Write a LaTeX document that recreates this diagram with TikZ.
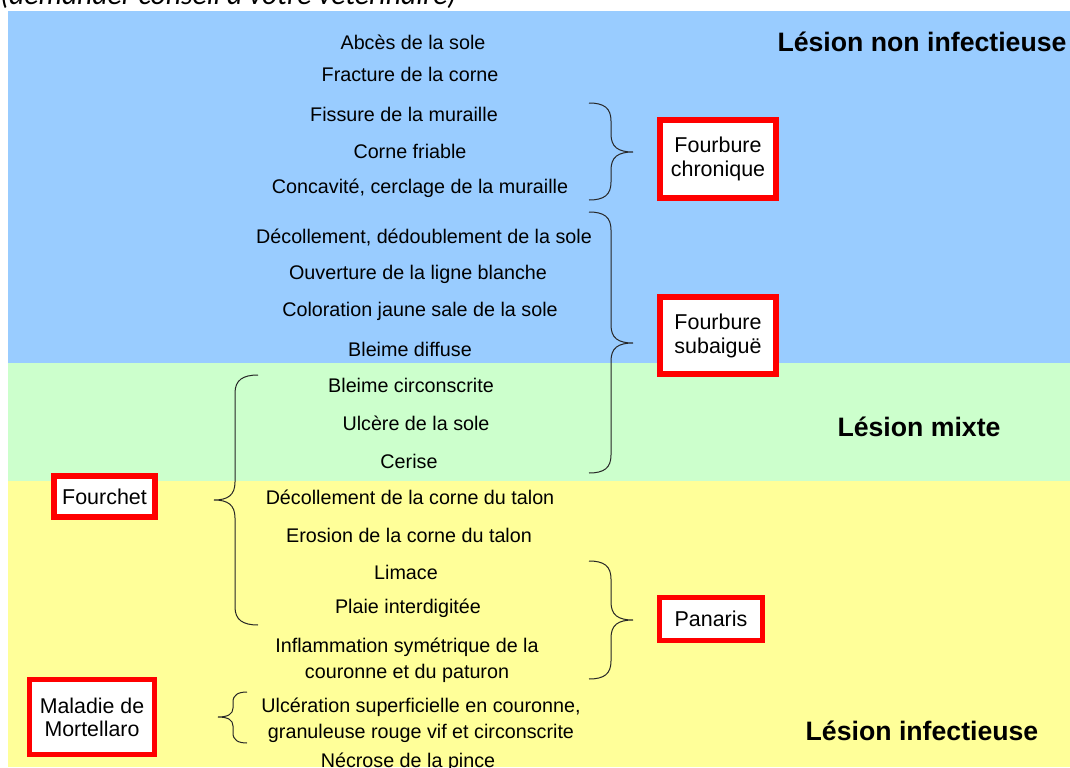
\documentclass[tikz,border=0pt]{standalone}
\usepackage{fontspec}
\setmainfont{Liberation Sans}
\newfontfamily\conseilfont{Carlito}
\usepackage{xcolor}

\definecolor{bleuzone}{RGB}{153,204,255}
\definecolor{vertzone}{RGB}{204,255,204}
\definecolor{jaunezone}{RGB}{255,255,153}

\begin{document}
\begin{tikzpicture}[x=0.75pt,y=0.75pt,yscale=-1,xscale=1,
    lesion/.style={inner sep=0.75pt, align=center, font=\fontsize{14.8}{19.5}\selectfont},
    titre/.style={inner sep=0.75pt, font=\bfseries\fontsize{20}{24}\selectfont},
    boite/.style={draw=red, line width=4.1pt, fill=white, inner sep=0pt, align=center, font=\fontsize{16.1}{18}\selectfont},
    accolade/.style={draw=black!85, line width=0.75}]
    \useasboundingbox (0,0) rectangle (1070,767);
    \clip (0,0) rectangle (1070,767);

    %Shape: Rectangle [zones]
    \fill [bleuzone] (8,11) rectangle (1070,363);
    \fill [vertzone] (8,363) rectangle (1070,481);
    \fill [jaunezone] (8,481) rectangle (1070,767);

    % Text Node
    \node [anchor=base west, inner sep=0pt, font=\conseilfont\itshape\fontsize{22.2}{26}\selectfont] (conseil) at (0,5) {(demander conseil à votre vétérinaire)};

    % Text Node
    \node [lesion] (abces) at (413,42) {Abcès de la sole};
    \node [lesion] (fracture) at (410,74) {Fracture de la corne};
    \node [lesion] (fissure) at (404,114) {Fissure de la muraille};
    \node [lesion] (friable) at (410,151) {Corne friable};
    \node [lesion] (concavite) at (420,188) {Concavité, cerclage de la muraille};
    \node [lesion] (decolsole) at (424,237) {Décollement, dédoublement de la sole};
    \node [lesion] (ouverture) at (418,274) {Ouverture de la ligne blanche};
    \node [lesion] (coloration) at (420,311) {Coloration jaune sale de la sole};
    \node [lesion] (diffuse) at (410,349) {Bleime diffuse};
    \node [lesion] (circonscrite) at (411,385) {Bleime circonscrite};
    \node [lesion] (ulcere) at (416,423) {Ulcère de la sole};
    \node [lesion] (cerise) at (409,461) {Cerise};
    \node [lesion] (decoltalon) at (410,497) {Décollement de la corne du talon};
    \node [lesion] (erosion) at (409,535) {Erosion de la corne du talon};
    \node [lesion] (limace) at (406,572) {Limace};
    \node [lesion] (plaie) at (408,608) {Plaie interdigitée};
    \node [lesion] (inflammation) at (407,660) {Inflammation symétrique de la\\couronne et du paturon};
    \node [lesion] (ulceration) at (421,720) {Ulcération superficielle en couronne,\\granuleuse rouge vif et circonscrite};
    \node [lesion] (necrose) at (408,762) {Nécrose de la pince};

    % Text Node
    \node [titre] (noninf) at (922,42) {Lésion non infectieuse};
    \node [titre] (mixte) at (919,427) {Lésion mixte};
    \node [titre] (infect) at (922,731) {Lésion infectieuse};

    % Boxes
    \node [boite, minimum width=87pt, minimum height=58.5pt] (chronique) at (718,159) {Fourbure\\chronique};
    \node [boite, minimum width=87pt, minimum height=57.8pt] (subaigue) at (718,335.5) {Fourbure\\subaiguë};
    \node [boite, minimum width=76pt, minimum height=31pt] (fourchet) at (104.5,496.5) {Fourchet};
    \node [boite, minimum width=77pt, minimum height=32pt] (panaris) at (711,619) {Panaris};
    \node [boite, minimum width=93.4pt, minimum height=56pt, font=\fontsize{16}{17.3}\selectfont] (mortellaro) at (92,717) {Maladie de\\Mortellaro};

    %Shape: Brace [chronique]
    \draw [accolade] (589,103) .. controls (604,103) and (611,108) .. (611,121) -- (611,134) .. controls (611,147) and (618,152) .. (633,152) .. controls (618,152) and (611,157) .. (611,170) -- (611,182) .. controls (611,195) and (604,200) .. (589,200) ;
    %Shape: Brace [subaigue]
    \draw [accolade] (589,212) .. controls (604,212) and (611,217) .. (611,230) -- (611,325) .. controls (611,338) and (618,343) .. (633,343) .. controls (618,343) and (611,348) .. (611,361) -- (611,455) .. controls (611,468) and (604,473) .. (589,473) ;
    %Shape: Brace [panaris]
    \draw [accolade] (589,561) .. controls (604,561) and (611,566) .. (611,579) -- (611,602) .. controls (611,615) and (618,620) .. (633,620) .. controls (618,620) and (611,625) .. (611,638) -- (611,661) .. controls (611,674) and (604,679) .. (589,679) ;
    %Shape: Brace [fourchet]
    \draw [accolade] (258,375) .. controls (243,375) and (235,380) .. (235,393) -- (235,482) .. controls (235,495) and (228,500) .. (214,500) .. controls (228,500) and (235,505) .. (235,518) -- (235,607) .. controls (235,620) and (243,625) .. (258,625) ;
    %Shape: Brace [mortellaro]
    \draw [accolade] (247,692) .. controls (238,692) and (233,695) .. (233,702) -- (233,708) .. controls (233,714) and (228,717) .. (218,717) .. controls (228,717) and (233,720) .. (233,726) -- (233,733) .. controls (233,740) and (238,743) .. (247,743) ;

\end{tikzpicture}
\end{document}
